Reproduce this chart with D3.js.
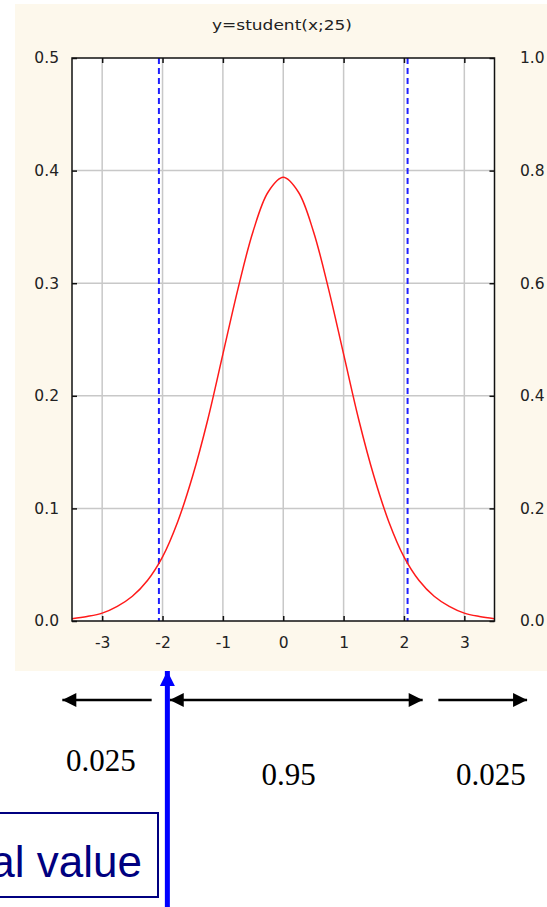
<!DOCTYPE html>
<html lang="en">
<head>
  <meta charset="UTF-8">
  <title>y=student(x;25)</title>
  <script src="https://d3js.org/d3.v7.min.js"></script>
  <style>
    body {
      margin: 0;
      background: #fff;
    }
  </style>
</head>
<body>
  <svg id="chart" width="547" height="907"></svg>

  <script>
    // values
    const xValues = [-3.5, -3.25, -3, -2.75, -2.5, -2.25, -2, -1.75, -1.5, -1.25, -1, -0.75, -0.5, -0.25, 0,
                     0.25, 0.5, 0.75, 1, 1.25, 1.5, 1.75, 2, 2.25, 2.5, 2.75, 3, 3.25, 3.5];
    const density = [0.002, 0.004, 0.007, 0.013, 0.022, 0.036, 0.057, 0.088, 0.129, 0.179, 0.237, 0.295, 0.346, 0.381, 0.394,
                     0.381, 0.346, 0.295, 0.237, 0.179, 0.129, 0.088, 0.057, 0.036, 0.022, 0.013, 0.007, 0.004, 0.002];
    const critical = [-2.06, 2.06];
    const xTicks = [-3, -2, -1, 0, 1, 2, 3];
    const yTicks = [0, 0.1, 0.2, 0.3, 0.4, 0.5];
    const yRightTicks = [0, 0.2, 0.4, 0.6, 0.8, 1.0];
    const title = "y=student(x;25)";

    // annotation below the chart (x in data units)
    const regions = [
      { from: -2.18, to: -3.66, label: "0.025", labelX: -3.02, labelY: 771 },
      { from: -1.88, to: 2.31, both: true, label: "0.95", labelX: 0.09, labelY: 785 },
      { from: 2.57, to: 4.04, label: "0.025", labelX: 3.44, labelY: 785 }
    ];
    const criticalArrowX = -1.92;
    const boxLabel = "Critical value";

    const svg = d3.select("#chart");
    const margin = {top: 58, right: 52.5, bottom: 286, left: 72};
    const W = +svg.attr("width"), H = +svg.attr("height");

    const x = d3.scaleLinear().domain([-3.5, 3.5]).range([margin.left, W - margin.right]);
    const y = d3.scaleLinear().domain([0, 0.5]).range([H - margin.bottom, margin.top]);
    const yR = d3.scaleLinear().domain([0, 1]).range([H - margin.bottom, margin.top]);

    const x0 = x.range()[0], x1 = x.range()[1];
    const yBot = y.range()[0], yTop = y.range()[1];

    // beige panel
    svg.append("rect")
      .attr("x", 15).attr("y", 4)
      .attr("width", W - 15).attr("height", 667)
      .attr("fill", "#fdf8ec");

    svg.append("text")
      .attr("x", 282).attr("y", 30)
      .attr("text-anchor", "middle")
      .attr("textLength", 140)
      .attr("lengthAdjust", "spacingAndGlyphs")
      .style("font-family", "'DejaVu Sans', sans-serif")
      .style("font-size", "14px")
      .attr("fill", "#222")
      .text(title);

    // plot area
    svg.append("rect")
      .attr("x", x0).attr("y", yTop)
      .attr("width", x1 - x0).attr("height", yBot - yTop)
      .attr("fill", "#fff");

    const grid = svg.append("g").attr("stroke", "#c8c8c8").attr("stroke-width", 1.5);
    grid.selectAll(".gx").data(xTicks).join("line")
      .attr("x1", d => x(d)).attr("x2", d => x(d))
      .attr("y1", yTop).attr("y2", yBot);
    grid.selectAll(".gy").data(yTicks.filter(d => d > 0 && d < 0.5)).join("line")
      .attr("x1", x0).attr("x2", x1)
      .attr("y1", d => y(d)).attr("y2", d => y(d));

    // axes (ticks point inward)
    const fmt = d => String(d);
    const styleAxis = g => {
      g.select(".domain").remove();
      g.selectAll(".tick line").attr("stroke", "#111").attr("stroke-width", 1.5);
      g.selectAll(".tick text")
        .style("font-family", "'DejaVu Sans', sans-serif")
        .style("font-size", "15.5px")
        .attr("fill", "#222");
    };
    svg.append("g")
      .attr("transform", `translate(${x0},0)`)
      .call(d3.axisLeft(y).tickValues(yTicks).tickFormat(d3.format(".1f"))
        .tickSizeInner(-5).tickSizeOuter(0).tickPadding(13))
      .call(styleAxis);
    svg.append("g")
      .attr("transform", `translate(${x1},0)`)
      .call(d3.axisRight(yR).tickValues(yRightTicks).tickFormat(d3.format(".1f"))
        .tickSizeInner(-5).tickSizeOuter(0).tickPadding(25.5))
      .call(styleAxis);
    svg.append("g")
      .attr("transform", `translate(0,${yBot})`)
      .call(d3.axisBottom(x).tickValues(xTicks).tickFormat(fmt)
        .tickSizeInner(-5).tickSizeOuter(0).tickPadding(16))
      .call(styleAxis);
    svg.append("g")
      .attr("transform", `translate(0,${yTop})`)
      .call(d3.axisTop(x).tickValues(xTicks).tickFormat("")
        .tickSizeInner(-5).tickSizeOuter(0))
      .call(styleAxis);

    // critical value lines
    svg.selectAll(".crit").data(critical).join("line")
      .attr("x1", d => x(d)).attr("x2", d => x(d))
      .attr("y1", yTop).attr("y2", yBot)
      .attr("stroke", "#1f1fff")
      .attr("stroke-width", 2)
      .attr("stroke-dasharray", "6,4");

    // density curve
    const line = d3.line()
      .x((d, i) => x(xValues[i]))
      .y(d => y(d))
      .curve(d3.curveCatmullRom);
    svg.append("path")
      .datum(density)
      .attr("d", line)
      .attr("fill", "none")
      .attr("stroke", "#ff1a1a")
      .attr("stroke-width", 1.5);

    // frame
    svg.append("rect")
      .attr("x", x0).attr("y", yTop)
      .attr("width", x1 - x0).attr("height", yBot - yTop)
      .attr("fill", "none")
      .attr("stroke", "#111")
      .attr("stroke-width", 1.5);

    // arrow markers
    const defs = svg.append("defs");
    defs.append("marker")
      .attr("id", "head")
      .attr("viewBox", "0 0 10 10")
      .attr("refX", 10).attr("refY", 5)
      .attr("markerWidth", 16).attr("markerHeight", 14)
      .attr("markerUnits", "userSpaceOnUse")
      .attr("orient", "auto-start-reverse")
      .append("path").attr("d", "M0,0L10,5L0,10Z").attr("fill", "#000");
    defs.append("marker")
      .attr("id", "bluehead")
      .attr("viewBox", "0 0 10 10")
      .attr("refX", 10).attr("refY", 5)
      .attr("markerWidth", 15).attr("markerHeight", 16)
      .attr("markerUnits", "userSpaceOnUse")
      .attr("orient", "auto")
      .append("path").attr("d", "M0,0L10,5L0,10Z").attr("fill", "#0000ff");

    const arrowY = 700;
    const ann = svg.append("g");
    ann.selectAll(".arr").data(regions).join("line")
      .attr("x1", d => x(d.from)).attr("x2", d => x(d.to))
      .attr("y1", arrowY).attr("y2", arrowY)
      .attr("stroke", "#000")
      .attr("stroke-width", 2.5)
      .attr("marker-end", "url(#head)")
      .attr("marker-start", d => d.both ? "url(#head)" : null);

    ann.selectAll(".lab").data(regions).join("text")
      .attr("x", d => x(d.labelX)).attr("y", d => d.labelY)
      .attr("text-anchor", "middle")
      .style("font-family", "'Liberation Serif', 'Times New Roman', serif")
      .style("font-size", "31px")
      .attr("fill", "#000")
      .text(d => d.label);

    // "Critical value" box, cut by the left edge as in the original slide
    ann.append("rect")
      .attr("x", -300).attr("y", 813)
      .attr("width", 300 + 158).attr("height", 84)
      .attr("fill", "#fff")
      .attr("stroke", "#000080")
      .attr("stroke-width", 2);
    ann.append("text")
      .attr("x", 142).attr("y", 877)
      .attr("text-anchor", "end")
      .style("font-family", "'Liberation Sans', Arial, sans-serif")
      .style("font-size", "44px")
      .attr("fill", "#000080")
      .text(boxLabel);

    // blue arrow pointing at the critical value
    ann.append("line")
      .attr("x1", x(criticalArrowX)).attr("x2", x(criticalArrowX))
      .attr("y1", H).attr("y2", 671)
      .attr("stroke", "#0000ff")
      .attr("stroke-width", 5)
      .attr("marker-end", "url(#bluehead)");
  </script>
</body>
</html>
